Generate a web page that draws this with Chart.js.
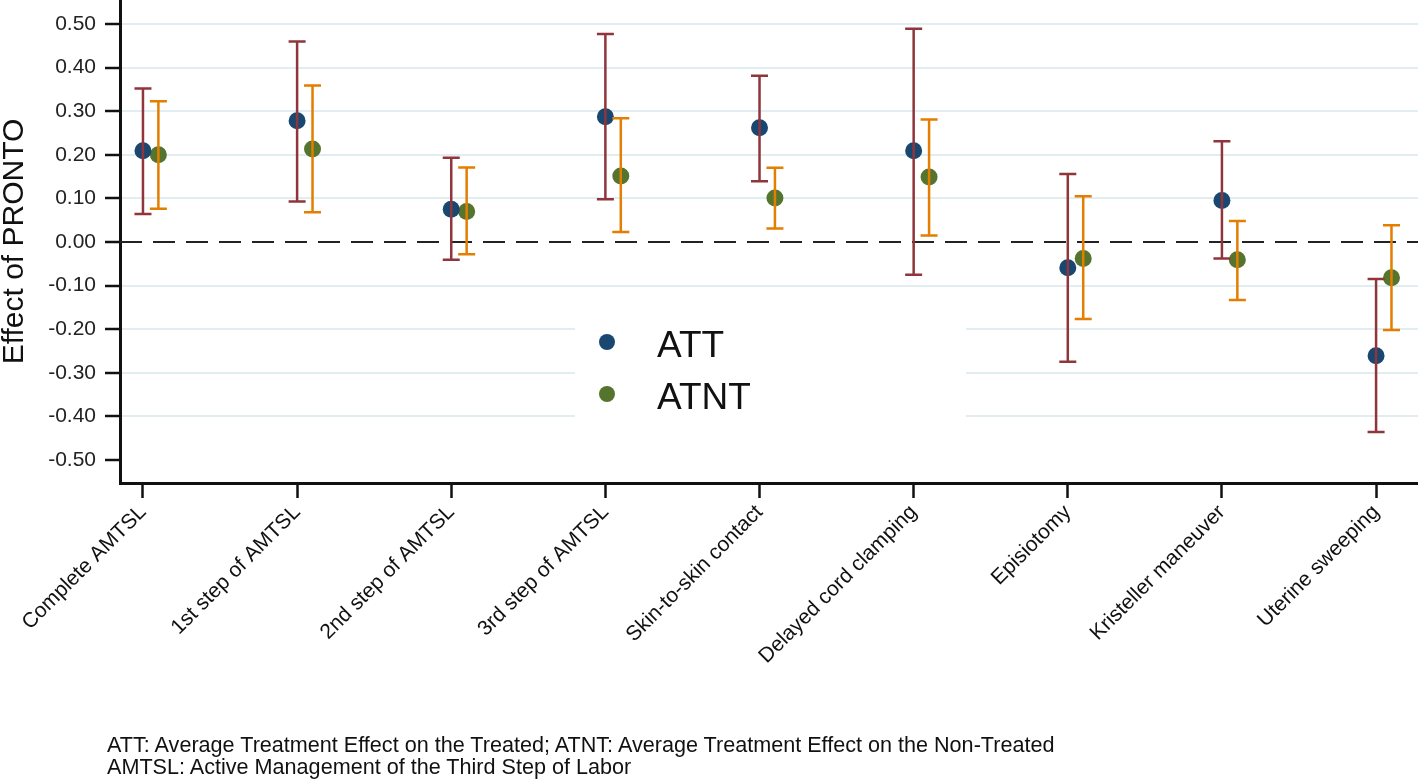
<!DOCTYPE html>
<html>
<head>
<meta charset="utf-8">
<script src="https://cdn.jsdelivr.net/npm/chart.js@4.4.1/dist/chart.umd.min.js"></script>
<style>
  html, body { margin: 0; padding: 0; background: #fff; }
  #wrap { position: relative; width: 1418px; height: 782px; }
  #note {
    position: absolute; left: 107px; top: 734px;
    font: 21.6px "Liberation Sans", Arial, sans-serif; line-height: 22px; color: #111;
    white-space: nowrap;
  }
</style>
</head>
<body>
<div id="wrap">
  <canvas id="mycanvas" width="1418" height="782"></canvas>
  <div id="note">ATT: Average Treatment Effect on the Treated; ATNT: Average Treatment Effect on the Non-Treated<br>AMTSL: Active Management of the Third Step of Labor</div>
</div>
<script>
// values
var categories = ['Complete AMTSL', '1st step of AMTSL', '2nd step of AMTSL', '3rd step of AMTSL',
  'Skin-to-skin contact', 'Delayed cord clamping', 'Episiotomy', 'Kristeller maneuver', 'Uterine sweeping'];

var att    = [0.209, 0.278, 0.075, 0.287, 0.262, 0.209, -0.059, 0.095, -0.261];
var attLo  = [0.064, 0.093, -0.041, 0.098, 0.139, -0.075, -0.275, -0.038, -0.436];
var attHi  = [0.352, 0.460, 0.193, 0.477, 0.381, 0.489, 0.156, 0.231, -0.085];

var atnt   = [0.200, 0.213, 0.070, 0.151, 0.101, 0.149, -0.038, -0.041, -0.082];
var atntLo = [0.076, 0.068, -0.028, 0.023, 0.031, 0.015, -0.177, -0.133, -0.202];
var atntHi = [0.323, 0.359, 0.171, 0.284, 0.170, 0.281, 0.105, 0.048, 0.038];

var yTicks = [0.5, 0.4, 0.3, 0.2, 0.1, 0, -0.1, -0.2, -0.3, -0.4, -0.5];

var FONT = '"Liberation Sans", Arial, sans-serif';
var shift = 0.1; // ATNT drawn a bit right of the category

function pts(vals, off) {
  return vals.map(function (v, i) { return { x: i + off, y: v }; });
}

var bars = [
  { lo: attLo, hi: attHi, off: 0, color: '#90353b' },
  { lo: atntLo, hi: atntHi, off: shift, color: '#e37e00' }
];

var errorBars = {
  id: 'errorBars',
  beforeDatasetsDraw: function (chart) {
    var ctx = chart.ctx, a = chart.chartArea, y = chart.scales.y;
    var y0 = y.getPixelForValue(0);
    ctx.save();
    ctx.strokeStyle = '#222';
    ctx.lineWidth = 2;
    ctx.setLineDash([22, 11]);
    ctx.beginPath();
    ctx.moveTo(a.left, y0);
    ctx.lineTo(a.right, y0);
    ctx.stroke();
    ctx.restore();
  },
  afterDatasetsDraw: function (chart) {
    var ctx = chart.ctx, xs = chart.scales.x, ys = chart.scales.y;
    ctx.save();
    ctx.lineWidth = 2.5;
    bars.forEach(function (b) {
      ctx.strokeStyle = b.color;
      for (var i = 0; i < b.lo.length; i++) {
        var px = xs.getPixelForValue(i + b.off);
        var p1 = ys.getPixelForValue(b.lo[i]);
        var p2 = ys.getPixelForValue(b.hi[i]);
        ctx.beginPath();
        ctx.moveTo(px, p1); ctx.lineTo(px, p2);
        ctx.moveTo(px - 8.5, p1); ctx.lineTo(px + 8.5, p1);
        ctx.moveTo(px - 8.5, p2); ctx.lineTo(px + 8.5, p2);
        ctx.stroke();
      }
    });
    ctx.restore();
  },
  afterDraw: function (chart) {
    // legend inside the plot, on a white box
    var ctx = chart.ctx;
    ctx.save();
    ctx.fillStyle = '#fff';
    ctx.fillRect(575, 295, 391, 140);
    ctx.font = '37px ' + FONT;
    ctx.textBaseline = 'alphabetic';
    chart.data.datasets.forEach(function (ds, k) {
      var cy = 342 + k * 52;
      ctx.fillStyle = ds.backgroundColor;
      ctx.beginPath();
      ctx.arc(607, cy, 8, 0, Math.PI * 2);
      ctx.fill();
      ctx.fillStyle = '#111';
      ctx.fillText(ds.label, 657, cy + 15);
    });
    ctx.restore();
  }
};

var chartdata = {
  datasets: [
    { label: 'ATT', data: pts(att, 0), backgroundColor: '#1a476f', borderWidth: 0, pointRadius: 8.5 },
    { label: 'ATNT', data: pts(atnt, shift), backgroundColor: '#55752f', borderWidth: 0, pointRadius: 8.5 }
  ]
};

var ctx = document.getElementById('mycanvas');
var chart = new Chart(ctx, {
  type: 'scatter',
  data: chartdata,
  plugins: [errorBars],
  options: {
    responsive: false,
    animation: false,
    events: [],
    layout: { padding: 0, autoPadding: false },
    plugins: { legend: { display: false }, tooltip: { enabled: false } },
    scales: {
      x: {
        type: 'linear',
        min: -0.149,
        max: 8.272,
        afterFit: function (s) { s.height = 299; s.paddingLeft = 0; s.paddingRight = 0; },
        afterBuildTicks: function (s) {
          s.ticks = categories.map(function (c, i) { return { value: i }; });
        },
        grid: { drawOnChartArea: false, drawTicks: true, tickLength: 15, tickColor: '#111', tickWidth: 2.5 },
        border: { color: '#111', width: 3 },
        ticks: {
          autoSkip: false,
          minRotation: 45,
          maxRotation: 45,
          padding: 2,
          color: '#111',
          font: { family: FONT, size: 21 },
          callback: function (v) { return categories[v]; }
        }
      },
      y: {
        min: -0.553,
        max: 0.555,
        afterFit: function (s) { s.width = 120; s.paddingTop = 0; s.paddingBottom = 0; },
        afterBuildTicks: function (s) {
          s.ticks = yTicks.map(function (v) { return { value: v }; });
        },
        grid: {
          color: function (c) {
            if (!c.tick) return '#e2edf1';
            return (c.tick.value === 0 || c.tick.value === -0.5) ? 'rgba(0,0,0,0)' : '#e2edf1';
          },
          lineWidth: 2,
          tickLength: 15,
          tickColor: '#111',
          tickWidth: 2.5
        },
        border: { color: '#111', width: 3 },
        title: {
          display: true,
          text: 'Effect of PRONTO',
          color: '#111',
          font: { family: FONT, size: 30, lineHeight: 1 },
          padding: 0
        },
        ticks: {
          padding: 9,
          color: '#222',
          font: { family: FONT, size: 21 },
          callback: function (v) { return v.toFixed(2); }
        }
      }
    }
  }
});
</script>
</body>
</html>
